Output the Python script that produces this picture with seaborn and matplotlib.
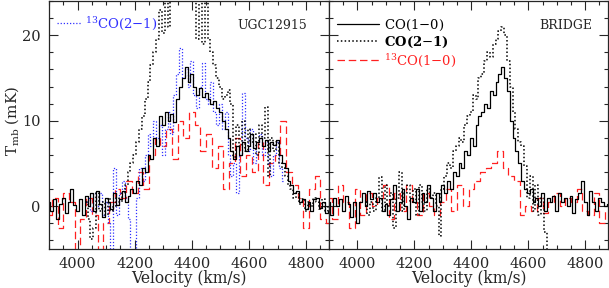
import numpy as np
import pandas as pd
import matplotlib
matplotlib.use("Agg")
import matplotlib.pyplot as plt
from matplotlib.lines import Line2D
import seaborn as sns

# channel grids (km/s)
vel10 = np.arange(3900, 4890, 10)
vel20 = np.arange(3900, 4890, 20)
vel10_late = np.arange(4030, 4890, 10)

# UGC12915
ugc_co10 = [0.5, -0.5, 0.8, -1.5, 0.3, 1.0, -0.8, 0.5, 2.0, 0.2,
            -0.5, 0.8, -1.0, 1.2, 0.0, 1.5, -0.5, 1.8, 0.3, -1.2,
            1.0, 0.5, -0.3, 1.6, 0.2, 0.8, 1.8, 0.5, 1.2, 2.0,
            1.5, 3.0, 2.5, 4.5, 4.0, 6.0, 5.5, 8.0, 7.0, 10.5,
            9.5, 11.0, 10.0, 10.8, 9.8, 12.5, 14.0, 15.0, 16.3, 14.5,
            15.5, 14.0, 13.0, 13.8, 12.8, 13.3, 12.5, 12.0, 12.3, 11.5,
            11.0, 10.0, 9.0, 8.0, 6.5, 5.5, 7.0, 6.0, 7.5, 6.5,
            7.0, 8.5, 6.8, 7.5, 8.0, 7.0, 7.8, 6.5, 7.5, 7.2,
            7.8, 6.0, 5.0, 4.5, 3.0, 2.5, 1.5, 1.8, 0.5, 0.8,
            -0.3, 0.5, -0.5, 0.8, 1.0, -0.2, 0.5, -0.8, -0.5]
ugc_co21 = [0.5, -1.5, -3.8, -2.5, 1.5, -0.5, 0.5, -1.0, 1.0, -0.5,
            0.0, 1.0, 0.5, 1.5, 2.5, 4.0, 5.0, 6.0, 7.5, 9.0,
            10.5, 12.5, 14.5, 16.5, 18.0, 19.5, 23.0, 20.2, 27.0, 21.0,
            28.0, 30.0, 29.0, 31.0, 30.0, 32.0, 30.0, 31.0, 28.0, 19.5,
            27.0, 19.0, 25.0, 19.5, 18.0, 16.5, 15.0, 14.0, 12.5, 13.0,
            13.6, 12.0, 5.8, 9.5, 7.0, 10.0, 6.5, 9.0, 7.5, 8.5,
            6.0, 9.5, 8.0, 11.6, 3.5, 8.0, 6.5, 7.5, 5.0, 4.5,
            3.5, 2.5, 2.0, 1.0, 1.5, 0.3, 0.8, -0.5, 0.5, 0.0,
            1.0, 0.5, -0.3, 0.8, -0.5, 0.0]
ugc_13co10 = [-1.0, 1.0, -2.5, 1.5, 0.5, -6.0, -1.5, 1.0, -1.0, -6.0,
              -2.0, 0.5, 2.0, 1.0, 3.0, 1.5, 4.0, 2.0, 6.0, 8.0,
              7.0, 9.0, 5.5, 10.0, 8.0, 11.0, 9.5, 6.5, 8.5, 4.5,
              7.0, 2.0, 5.0, 8.0, 3.5, 6.0, 4.0, 7.5, 2.5, 5.0,
              6.0, 10.0, 4.0, 2.5, 1.0, -2.5, 2.0, 3.5, -1.5, -2.0]
ugc_13co21 = [0.5, 1.0, -0.5, 1.5, 0.0, 1.5, -1.0, 0.5, -2.0, -5.5,
              4.5, -1.0, 1.5, 3.0, 1.0, -1.5, -6.0, -6.0, 1.0, 4.5,
              3.0, 6.0, 8.5, 7.0, 10.0, 8.0, 9.5, 6.0, 9.0, 11.0,
              8.5, 13.0, 15.5, 18.5, 15.0, 16.0, 14.0, 17.0, 13.0, 11.5,
              14.0, 16.8, 12.5, 12.0, 14.5, 11.0, 9.5, 12.0, 9.0, 11.0,
              6.0, 3.5, 5.0, 1.5, 6.0, 13.2, 8.0, 6.5, 9.0, 5.0,
              7.5, 8.5, 6.0, 7.5, 5.0, 3.5, 6.0, 7.5, 4.5, 3.0]

# BRIDGE
br_co10 = [0.5, -1.0, 1.0, 0.0, 0.8, -0.5, 1.2, 0.3, -1.2, 0.5,
           -2.0, 0.5, 1.5, 0.0, 1.8, 0.8, 1.5, 0.5, 1.0, -0.5,
           0.3, -1.0, 0.8, 2.5, -0.5, 0.5, 2.0, 0.0, -1.5, 1.0,
           0.5, 2.0, -0.5, 1.5, 0.5, 2.5, 1.0, -0.5, 1.5, 0.5,
           2.5, 1.5, 3.0, 2.0, 4.0, 3.5, 5.0, 4.5, 6.5, 6.0,
           8.0, 7.0, 9.5, 10.5, 11.0, 12.0, 11.5, 13.5, 13.0, 14.5,
           15.5, 16.3, 15.0, 13.5, 10.0, 8.0, 6.5, 5.0, 3.0, 2.0,
           1.5, 2.0, 0.5, 1.0, 0.0, 1.5, -0.5, 1.0, 0.5, 1.2,
           -0.5, 1.5, 0.5, 1.0, 0.0, 1.2, -0.8, 0.8, 1.5, 3.0,
           0.5, -1.0, 1.8, 0.5, -0.5, 1.0, 0.5, 0.0, 0.3]
br_co21 = [0.5, -1.0, 0.5, -0.5, 1.0, 3.4, -0.5, 2.5, 0.0, 1.5,
           -2.5, 1.0, 4.0, -0.5, 1.5, 2.5, 0.5, 2.0, -1.0, 2.5,
           0.5, -0.5, 2.0, 1.0, 1.5, 0.0, -3.5, 2.0, 3.5, 5.0,
           4.5, 6.5, 7.0, 8.0, 7.5, 9.5, 10.5, 11.0, 13.0, 12.5,
           15.0, 15.5, 17.0, 18.0, 17.5, 19.0, 19.5, 20.5, 21.0, 20.0,
           17.0, 14.0, 11.0, 9.0, 7.5, 7.0, 4.7, 1.0, 3.5, -0.5,
           2.5, -1.0, 1.0, -3.0, -9.0]
br_13co10 = [1.0, -1.5, 2.5, 0.5, -2.5, 2.0, -1.0, 1.5, 0.0, 1.0,
             2.5, -1.5, 1.5, -0.5, 2.5, 0.5, -1.0, 1.5, 0.0, -1.0,
             0.5, 2.0, -0.5, 2.5, 0.0, 2.0, 3.0, 4.0, 4.5, 5.0,
             6.5, 4.5, 3.5, 3.0, -1.0, 0.0, -0.5, 1.0, -0.8, 0.5,
             1.5, 0.0, 1.0, 0.5, 2.0, -0.5, -1.0, 1.5, -2.0, -0.5]

SER = "DejaVu Serif"
FS = 10.5      # tick labels
FS_LAB = 11.2  # axis labels
FS_LEG = 9.5   # legend
FS_TAG = 9.0   # panel names

sns.set_style("ticks")
plt.rcParams["font.family"] = [SER]
plt.rcParams["mathtext.fontset"] = "dejavuserif"
plt.rcParams["font.size"] = FS

fig = plt.figure(figsize=(6.09, 2.88), dpi=100)
ax1 = fig.add_axes([49 / 609, 39 / 288, 280 / 609, 248 / 288])
ax2 = fig.add_axes([329 / 609, 39 / 288, 279 / 609, 248 / 288])

LW = 0.9
RED = "#ff2020"
BLUE = "#3030ff"
dash = (0, (6, 3))
dots = (0, (1, 1.5))


def step(ax, x, y, color, ls, lw=LW):
    n = len(y)
    df = pd.DataFrame({"v": x[:n], "t": y})
    sns.lineplot(data=df, x="v", y="t", ax=ax, color=color, linestyle=ls,
                 lw=lw, drawstyle="steps-mid", estimator=None, legend=False)


step(ax1, vel20, ugc_13co10, RED, dash)
step(ax1, vel10_late, ugc_13co21, BLUE, dots)
step(ax1, vel10_late, ugc_co21, "black", dots, lw=1.1)
step(ax1, vel10, ugc_co10, "black", "-")

step(ax2, vel20, br_13co10, RED, dash)
step(ax2, vel10_late, br_co21, "black", dots, lw=1.1)
step(ax2, vel10, br_co10, "black", "-")

for ax in (ax1, ax2):
    ax.set_xlim(3900, 4880)
    ax.set_ylim(-5, 24)
    ax.set_xticks([4000, 4200, 4400, 4600, 4800])
    ax.set_xticks(np.arange(3900, 4900, 50), minor=True)
    ax.set_yticks([0, 10, 20])
    ax.set_yticks(np.arange(-4, 25, 2), minor=True)
    ax.tick_params(which="both", direction="in", top=True, right=True,
                   labelsize=FS, width=0.8, pad=6)
    ax.tick_params(which="major", length=6.5)
    ax.tick_params(which="minor", length=3.2)
    for sp in ax.spines.values():
        sp.set_linewidth(0.9)
    ax.set_xlabel("Velocity (km/s)", fontsize=FS_LAB, labelpad=-1)
    ax.set_ylabel("")

ax2.tick_params(labelleft=False)
ax1.set_ylabel(r"T$_{\rm mb}$ (mK)", fontsize=10.8)
ax1.yaxis.set_label_coords(-0.1, 0.516)

ax1.text(0.921, 0.903, "UGC12915", transform=ax1.transAxes, ha="right",
         va="center", fontsize=FS_TAG)
ax2.text(0.943, 0.903, "BRIDGE", transform=ax2.transAxes, ha="right",
         va="center", fontsize=FS_TAG)

# legends
h1 = [Line2D([], [], color=BLUE, ls=dots, lw=LW)]
ax1.legend(h1, [r"$^{13}$CO(2$-$1)"], loc="upper left",
           bbox_to_anchor=(0.0, 0.975), frameon=False,
           handlelength=1.9, handletextpad=0.2, fontsize=FS_LEG,
           labelcolor=[BLUE], borderaxespad=0.2)

h2 = [Line2D([], [], color="black", ls="-", lw=LW),
      Line2D([], [], color="black", ls=dots, lw=1.1),
      Line2D([], [], color=RED, ls=dash, lw=LW)]
leg2 = ax2.legend(h2, ["CO(1$-$0)", r"CO(2$-$1)", r"$^{13}$CO(1$-$0)"],
                  loc="upper left", bbox_to_anchor=(0.0, 0.965),
                  frameon=False, handlelength=3.2, handletextpad=0.4,
                  fontsize=FS_LEG, labelcolor=["black", "black", RED],
                  labelspacing=0.15, borderaxespad=0.2)
leg2.get_texts()[1].set_fontweight("bold")

fig.savefig("out.png", dpi=100)
